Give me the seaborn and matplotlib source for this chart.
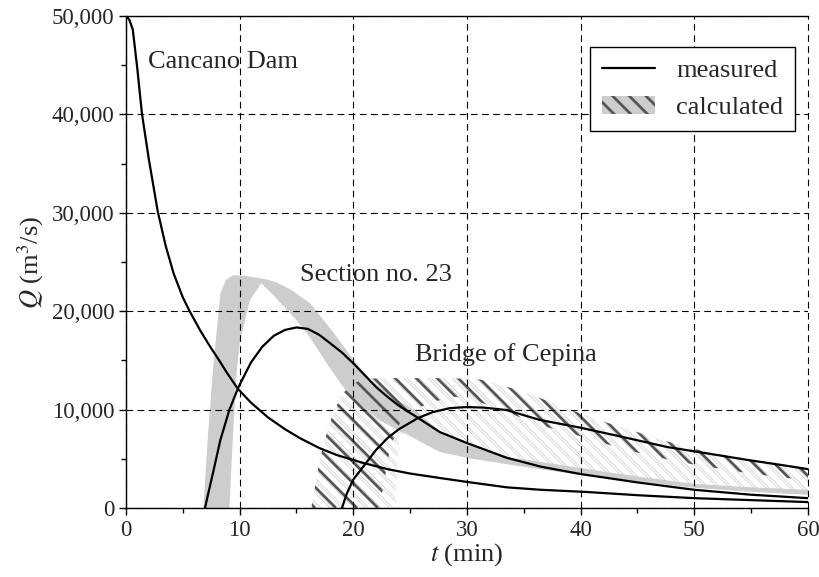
import numpy as np
import matplotlib
matplotlib.use("Agg")
import matplotlib.pyplot as plt
import seaborn as sns
from matplotlib.patches import Polygon, Patch
from matplotlib.lines import Line2D
from matplotlib.collections import LineCollection
from matplotlib.ticker import MultipleLocator, StrMethodFormatter

# measured hydrographs (t in min, Q in m3/s)
cancano_t = [0, 0.3, 0.6, 1.0, 1.4, 2.0, 2.8, 3.5, 4.2, 5.0, 5.6, 6.5, 7.4, 8.2, 8.9, 9.85,
             11, 12.5, 14, 15.3, 17, 18.5, 20.8, 23, 25, 27.6, 30, 33.5, 36.5, 40.5, 45, 50, 55, 60]
cancano_q = [50000, 49600, 48600, 44600, 40100, 35500, 30100, 26600, 23800, 21400, 20000, 18100,
             16400, 15000, 13700, 12100, 10700, 9200, 8000, 7100, 6100, 5400, 4600, 3950, 3500,
             3050, 2650, 2100, 1850, 1630, 1300, 1000, 800, 600]

section_t = [6.95, 7.3, 7.7, 8.3, 9.1, 9.9, 11.0, 12.0, 13.0, 14.0, 15.0, 16.0, 17.0, 17.9, 19.0,
             20.0, 21.0, 22.0, 23.0, 24.0, 25.7, 27.6, 30, 33.5, 36.5, 40, 45, 50, 55, 60]
section_q = [0, 1800, 3800, 6900, 10000, 12300, 14800, 16400, 17500, 18100, 18350, 18200, 17600,
             16800, 15800, 14700, 13500, 12300, 11300, 10400, 9150, 7720, 6600, 5100, 4200, 3450,
             2600, 1850, 1350, 1000]

bridge_t = [19.0, 19.4, 20.0, 21.0, 22.0, 23.0, 24.0, 25.7, 27, 28.5, 30, 31.5, 33.5, 36.4, 39.9,
            43.7, 47.6, 51.4, 54.7, 57.5, 60]
bridge_q = [0, 1400, 2900, 4400, 5900, 7100, 8000, 9150, 9750, 10150, 10260, 10200, 9950, 8950,
            8180, 7220, 6200, 5500, 4880, 4400, 3950]

# calculated band, Section no. 23 (outer and inner edge)
sec_calc_up_t = [6.8, 7.2, 7.65, 8.3, 8.8, 9.4, 10.5, 11.5, 12.5, 13.3, 14.5, 16.2, 18.2, 20.0,
                 21.5, 23.5, 25.9, 27.6, 30, 33.5, 37, 40, 45, 50, 55, 60]
sec_calc_up_q = [0, 7200, 14000, 21800, 23200, 23650, 23600, 23400, 23200, 22900, 22200, 20800,
                 17900, 15100, 13000, 11300, 9500, 7800, 6700, 5200, 4600, 4050, 3200, 2450, 2100,
                 1850]
sec_calc_lo_t = [9.1, 9.4, 9.75, 10.0, 10.9, 11.9, 13.0, 14.0, 15.0, 16.2, 17.9, 19.1, 19.9, 22.3,
                 25, 27.6, 30, 33.5, 37, 40, 45, 50, 55, 60]
sec_calc_lo_q = [0, 7200, 14000, 16800, 21100, 22850, 21600, 20300, 19100, 17300, 14300, 12300,
                 11280, 8900, 7300, 5700, 5100, 4450, 3850, 3350, 2700, 2050, 1650, 1350]

# calculated band, Bridge of Cepina
br_calc_up_t = [16.3, 17.1, 17.9, 18.5, 19.1, 20.0, 20.8, 22.5, 25, 28, 31, 33, 35, 37.5, 40,
                42.5, 45, 47.5, 50, 52.5, 55, 57.5, 60]
br_calc_up_q = [0, 5200, 8600, 10300, 11700, 12600, 13100, 13200, 13200, 13200, 13100, 12500,
                11800, 10700, 9600, 8600, 7700, 6800, 6000, 5400, 4900, 4400, 4000]
br_calc_in_t = [22.3, 23.2, 23.8, 24.5, 27, 29, 31, 33, 36.4, 38.8, 44, 47, 50, 55, 60]
br_calc_in_q = [0, 5900, 7900, 9600, 10800, 11300, 10800, 10000, 8400, 7700, 5900, 5100, 4400,
                3500, 2800]
br_calc_lo_t = [23.7, 24.0, 25, 27.6, 30, 33.5, 37, 40, 45, 50, 55, 60]
br_calc_lo_q = [0, 7600, 7300, 5700, 5100, 4450, 3850, 3350, 2700, 2050, 1650, 1350]

x_ticks = [0, 10, 20, 30, 40, 50, 60]
y_ticks = [0, 10000, 20000, 30000, 40000, 50000]

sns.set_style("ticks")
plt.rcParams["font.family"] = ["Liberation Serif", "DejaVu Serif"]
plt.rcParams["mathtext.fontset"] = "stix"
plt.rcParams["hatch.linewidth"] = 2.0

W, H = 820, 577
fig = plt.figure(figsize=(W / 100, H / 100), dpi=100)
ax = fig.add_axes([126 / W, 69 / H, 682 / W, 492 / H])
ax.set_xlim(0, 60)
ax.set_ylim(0, 50000)


def band(xs_up, ys_up, xs_lo, ys_lo):
    pts = list(zip(xs_up, ys_up)) + list(zip(xs_lo[::-1], ys_lo[::-1]))
    return np.array(pts)


def hatch_lines(patch, spacing, offsets, color, lw, z):
    # diagonal texture (down-right, 45 deg on screen) clipped to a patch
    w_px, h_px = 682.0, 492.0
    segs = []
    for c in np.arange(0, w_px + h_px, spacing):
        for o in offsets:
            cc = c + o
            segs.append([((cc - h_px) / w_px, 1.0), (cc / w_px, 0.0)])
    lc = LineCollection(segs, transform=ax.transAxes, colors=color, linewidths=lw, zorder=z,
                        capstyle="butt")
    lc.set_clip_path(patch)
    ax.add_collection(lc, autolim=False)


# light thin hatch of the Bridge of Cepina band
light = Polygon(band(br_calc_up_t, br_calc_up_q, br_calc_lo_t, br_calc_lo_q), closed=True,
                facecolor="none", edgecolor="none", zorder=1)
ax.add_patch(light)
hatch_lines(light, 12, [0, 3], "#cfcfcf", 0.55, 1)

# grey band, Section no. 23
grey = Polygon(band(sec_calc_up_t, sec_calc_up_q, sec_calc_lo_t, sec_calc_lo_q), closed=True,
               facecolor="#cdcdcd", edgecolor="none", zorder=1.5)
ax.add_patch(grey)

# dark hatch of the Bridge of Cepina band
dark = Polygon(band(br_calc_up_t, br_calc_up_q, br_calc_in_t, br_calc_in_q), closed=True,
               facecolor="none", edgecolor="none", zorder=2)
ax.add_patch(dark)
hatch_lines(dark, 21, [0], "#555555", 2.0, 2)

# measured lines
for tt, qq in [(cancano_t, cancano_q), (section_t, section_q), (bridge_t, bridge_q)]:
    sns.lineplot(x=tt, y=qq, ax=ax, color="black", lw=1.6, estimator=None, sort=False, zorder=3)

ax.set_xticks(x_ticks)
ax.set_yticks(y_ticks)
ax.xaxis.set_minor_locator(MultipleLocator(5))
ax.yaxis.set_minor_locator(MultipleLocator(5000))
ax.yaxis.set_major_formatter(StrMethodFormatter("{x:,.0f}"))
ax.tick_params(which="major", direction="out", length=5, width=1, labelsize=16.5, color="black")
ax.tick_params(which="minor", direction="out", length=3.5, width=1, color="black")
ax.grid(True, which="major", color="black", lw=0.8, linestyle=(0, (6, 4)))
ax.set_axisbelow(False)
for gl in ax.get_xgridlines():
    gl.set_clip_on(False)
for s in ["left", "bottom", "top"]:
    ax.spines[s].set_color("black")
    ax.spines[s].set_linewidth(1.0)
ax.spines["right"].set_visible(False)

ax.set_xlabel("$t$ (min)", fontsize=19, labelpad=0)
ax.set_ylabel("$Q$ (m$^3$/s)", fontsize=19, labelpad=4)

ax.text(1.9, 45300, "Cancano Dam", fontsize=19, va="center", ha="left")
ax.text(15.3, 23700, "Section no. 23", fontsize=19, va="center", ha="left")
ax.text(25.4, 15550, "Bridge of Cepina", fontsize=19, va="center", ha="left")

handles = [Line2D([], [], color="black", lw=1.6),
           Patch(facecolor="#cdcdcd", edgecolor="#555555", hatch="\\\\", lw=0)]
leg = ax.legend(handles, ["measured", "calculated"], loc="upper right",
                bbox_to_anchor=(0.981, 0.937), borderaxespad=0, fontsize=19, frameon=True,
                fancybox=False, framealpha=1, edgecolor="black", handlelength=2.0,
                handletextpad=0.8, labelspacing=0.5, borderpad=0.45)
leg.get_frame().set_linewidth(1.0)
leg.set_zorder(5)

fig.savefig("out.png", dpi=100)
